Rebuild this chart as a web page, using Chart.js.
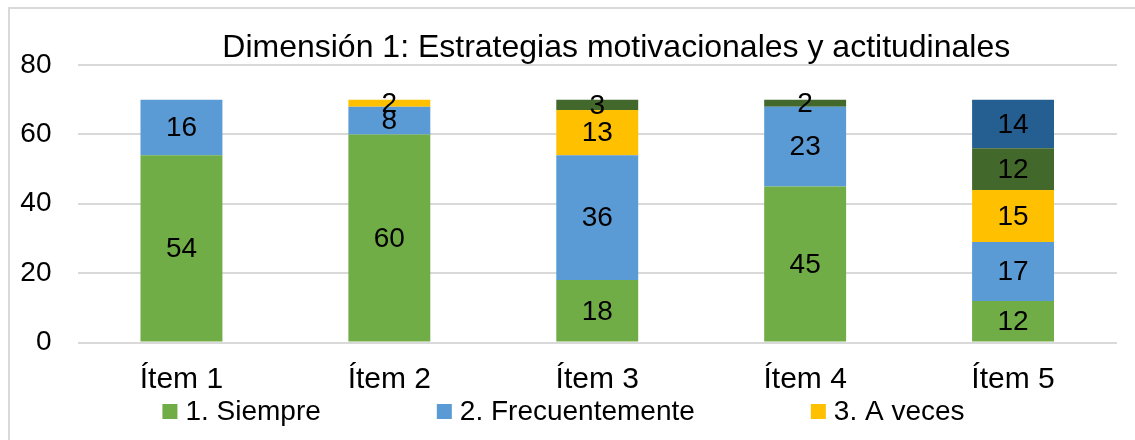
<!DOCTYPE html>
<html>
<head>
<meta charset="utf-8">
<script src="https://cdn.jsdelivr.net/npm/chart.js@4/dist/chart.umd.min.js"></script>
<style>
  html, body { margin: 0; padding: 0; background: #fff; }
  #wrap { width: 1135px; height: 440px; position: relative; }
</style>
</head>
<body>
<div id="wrap"><canvas id="chart"></canvas></div>
<script>
const FONT = '"Liberation Sans", Arial, sans-serif';

const chartTitle = "Dimensión 1: Estrategias motivacionales y actitudinales";
const categories = ["Ítem 1", "Ítem 2", "Ítem 3", "Ítem 4", "Ítem 5"];
const seriesNames = ["1. Siempre", "2. Frecuentemente", "3. A veces", "4. Casi nunca", "5. Nunca"];
const siempre = [54, 60, 18, 45, 12];
const frecuentemente = [16, 8, 36, 23, 17];
const aVeces = [0, 2, 13, 0, 15];
const casiNunca = [0, 0, 3, 2, 12];
const nunca = [0, 0, 0, 0, 14];
const yTicks = [0, 20, 40, 60, 80];

const colors = ["#70AD47", "#5B9BD5", "#FFC000", "#43682B", "#255E91"];
const shownInLegend = 3; // the legend in the original is cut after the third entry

const seriesValues = [siempre, frecuentemente, aVeces, casiNunca, nunca];

// value labels in the middle of every segment
const segmentLabels = {
  id: "segmentLabels",
  afterDatasetsDraw(chart) {
    const ctx = chart.ctx;
    ctx.save();
    ctx.font = "28px " + FONT;
    ctx.fillStyle = "#000";
    ctx.textAlign = "center";
    ctx.textBaseline = "middle";
    chart.data.datasets.forEach((ds, i) => {
      const meta = chart.getDatasetMeta(i);
      meta.data.forEach((bar, j) => {
        const v = ds.data[j];
        if (!v) return;
        ctx.fillText(String(v), bar.x, (bar.y + bar.base) / 2 + 1);
      });
    });
    ctx.restore();
  },
};

// title, frame and the (truncated) legend
const decorations = {
  id: "decorations",
  afterDraw(chart) {
    const ctx = chart.ctx;
    const area = chart.chartArea;
    ctx.save();

    // frame (only the left and top edges are visible)
    ctx.strokeStyle = "#d9d9d9";
    ctx.lineWidth = 2;
    ctx.beginPath();
    ctx.moveTo(9, chart.height + 5);
    ctx.lineTo(9, 8);
    ctx.lineTo(chart.width + 5, 8);
    ctx.stroke();

    // title
    ctx.fillStyle = "#000";
    ctx.font = "32px " + FONT;
    ctx.textAlign = "center";
    ctx.textBaseline = "alphabetic";
    ctx.fillText(chartTitle, (area.left + area.right) / 2 + 19, 57);

    // legend
    const box = 15, gapText = 8, gapItem = 116;
    ctx.font = "28px " + FONT;
    ctx.textAlign = "left";
    ctx.textBaseline = "middle";
    const items = chart.data.datasets.slice(0, shownInLegend).map((ds) => ({
      text: ds.label,
      color: ds.backgroundColor,
      w: box + gapText + ctx.measureText(ds.label).width,
    }));
    const total = items.reduce((s, it) => s + it.w, 0) + gapItem * (items.length - 1);
    let x = chart.width / 2 - total / 2 - 4;
    const cy = 411.5;
    items.forEach((it) => {
      ctx.fillStyle = it.color;
      ctx.fillRect(x, cy - box / 2, box, box);
      ctx.fillStyle = "#000";
      ctx.fillText(it.text, x + box + gapText, cy + 1);
      x += it.w + gapItem;
    });

    ctx.restore();
  },
};

new Chart(document.getElementById("chart"), {
  type: "bar",
  data: {
    labels: categories,
    datasets: seriesValues.map((vals, i) => ({
      label: seriesNames[i],
      data: vals,
      backgroundColor: colors[i],
      borderWidth: 0,
      categoryPercentage: 1,
      barPercentage: 0.394,
    })),
  },
  options: {
    responsive: true,
    maintainAspectRatio: false,
    animation: false,
    layout: { padding: { left: 0, right: 18, top: 65, bottom: 0 } },
    plugins: {
      legend: { display: false },
      title: { display: false },
      tooltip: { enabled: false },
    },
    scales: {
      x: {
        stacked: true,
        grid: { display: false },
        border: { display: false },
        ticks: { color: "#000", font: { family: FONT, size: 30 }, padding: 11 },
        afterFit: (axis) => { axis.height = 97.5; },
      },
      y: {
        stacked: true,
        min: 0,
        max: 80,
        afterBuildTicks: (axis) => {
          axis.ticks = yTicks.map((v) => ({ value: v }));
        },
        grid: { color: "#d9d9d9", lineWidth: 2, drawTicks: false },
        border: { display: false },
        ticks: { color: "#000", font: { family: FONT, size: 28 }, padding: 26 },
        afterFit: (axis) => { axis.width = 77.5; },
      },
    },
  },
  plugins: [segmentLabels, decorations],
});
</script>
</body>
</html>
